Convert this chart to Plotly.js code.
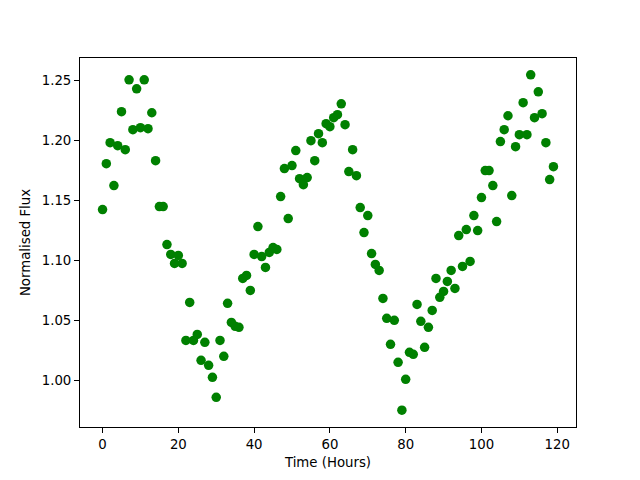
<!DOCTYPE html>
<html>
<head>
<meta charset="utf-8">
<script src="https://cdn.plot.ly/plotly-3.0.1.min.js"></script>
<style>html,body{margin:0;padding:0;background:#fff;}#chart{width:640px;height:480px;}</style>
</head>
<body>
<div id="chart"></div>
<script>
const timeHours = Array.from({length: 120}, (_, i) => i);
const normalisedFlux = [
  1.1425, 1.1808, 1.1983, 1.1625, 1.1958, 1.2242, 1.1925, 1.2508, 1.2092, 1.2433,
  1.2108, 1.2508, 1.2100, 1.2233, 1.1833, 1.1450, 1.1450, 1.1133, 1.1050, 1.0975,
  1.1042, 1.0975, 1.0333, 1.0650, 1.0333, 1.0383, 1.0167, 1.0317, 1.0125, 1.0025,
  0.9858, 1.0333, 1.0200, 1.0642, 1.0483, 1.0450, 1.0442, 1.0850, 1.0875, 1.0750,
  1.1050, 1.1283, 1.1033, 1.0942, 1.1067, 1.1108, 1.1092, 1.1533, 1.1767, 1.1350,
  1.1792, 1.1917, 1.1683, 1.1633, 1.1692, 1.2000, 1.1833, 1.2058, 1.1983, 1.2142,
  1.2117, 1.2192, 1.2217, 1.2308, 1.2133, 1.1742, 1.1925, 1.1708, 1.1442, 1.1233,
  1.1375, 1.1058, 1.0967, 1.0917, 1.0683, 1.0517, 1.0300, 1.0500, 1.0150, 0.9750,
  1.0008, 1.0233, 1.0217, 1.0633, 1.0492, 1.0275, 1.0442, 1.0583, 1.0850, 1.0692,
  1.0742, 1.0825, 1.0917, 1.0767, 1.1208, 1.0950, 1.1258, 1.0992, 1.1375, 1.1250,
  1.1525, 1.1750, 1.1750, 1.1625, 1.1325, 1.1992, 1.2092, 1.2208, 1.1542, 1.1950,
  1.2050, 1.2317, 1.2050, 1.2550, 1.2192, 1.2408, 1.2225, 1.1983, 1.1675, 1.1783
];
const xTicks = [0, 20, 40, 60, 80, 100, 120];
const yTicks = [1.00, 1.05, 1.10, 1.15, 1.20, 1.25];

const font = {family: 'DejaVu Sans, sans-serif', size: 13.3, color: '#000'};

Plotly.newPlot('chart', [{
  x: timeHours,
  y: normalisedFlux,
  type: 'scatter',
  mode: 'markers',
  marker: {color: '#008000', size: 9.5},
  hoverinfo: 'none'
}], {
  width: 640, height: 480,
  margin: {l: 80, r: 64, t: 58, b: 53, pad: 0},
  paper_bgcolor: '#fff', plot_bgcolor: '#fff',
  font: font,
  showlegend: false,
  xaxis: {
    range: [-5.95, 124.95], tickvals: xTicks, ticktext: xTicks.map(String),
    showgrid: false, zeroline: false, showline: true, mirror: true,
    linecolor: '#000', linewidth: 1, ticks: 'outside', ticklen: 5, tickwidth: 1, tickcolor: '#000',
    tickfont: font,
    title: {text: 'Time (Hours)', font: font, standoff: 6},
    automargin: false
  },
  yaxis: {
    range: [0.961, 1.269], tickvals: yTicks, ticktext: yTicks.map(v => v.toFixed(2)),
    showgrid: false, zeroline: false, showline: true, mirror: true,
    linecolor: '#000', linewidth: 1, ticks: 'outside', ticklen: 5, tickwidth: 1, tickcolor: '#000',
    tickfont: font,
    title: {text: 'Normalised Flux', font: font, standoff: 8},
    automargin: false
  }
}, {displayModeBar: false, staticPlot: true});
</script>
</body>
</html>
